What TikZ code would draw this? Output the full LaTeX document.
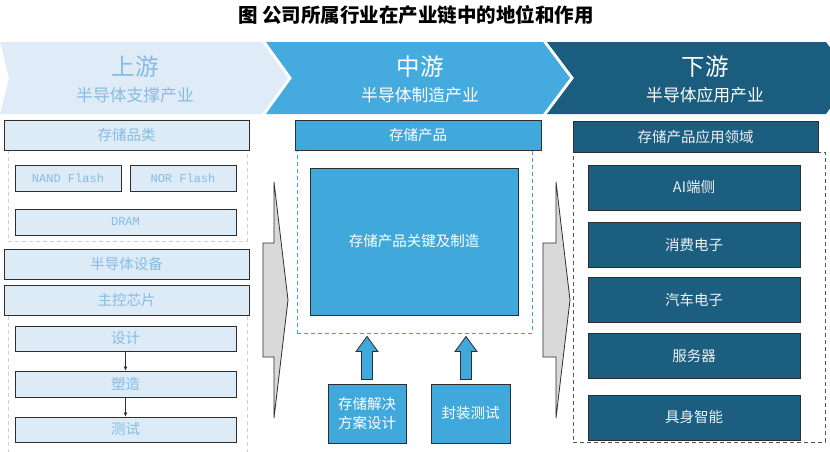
\documentclass[tikz,border=0pt]{standalone}
\usepackage{fontspec}
\setmainfont{Noto Sans CJK SC}
\newfontfamily\monof{Liberation Mono}
\usetikzlibrary{calc,arrows.meta}
\definecolor{lightfill}{HTML}{DDEBF7}
\definecolor{lighttext}{HTML}{86BCE2}
\definecolor{midfill}{HTML}{41A8DC}
\definecolor{darkfill}{HTML}{1B5E80}
\definecolor{boxline}{HTML}{2E2E2E}
\definecolor{grayarrow}{HTML}{D9D9D9}
\definecolor{chev1}{HTML}{DFECF8}
\definecolor{chev2}{HTML}{45ABDF}
\definecolor{chev3}{HTML}{1B5D7E}
\definecolor{dashlight}{HTML}{C9D3DC}
\definecolor{dashmid}{HTML}{3FA3C9}
\definecolor{dashdark}{HTML}{555555}
\tikzset{
  lbox/.style={draw=boxline, line width=0.9pt, fill=lightfill, text=lighttext, font=\fontsize{14.5}{16}\selectfont, inner sep=0pt},
  mbox/.style={draw=boxline, line width=0.9pt, fill=midfill, text=white, font=\fontsize{14.5}{17}\selectfont, inner sep=0pt, align=center},
  dbox/.style={draw=boxline, line width=0.9pt, fill=darkfill, text=white!92!darkfill, font=\fontsize{14.5}{16}\selectfont, inner sep=0pt},
  contain/.style={dashed, dash pattern=on 4pt off 3pt, line width=0.9pt, inner sep=0pt},
  hdbig/.style={font=\fontsize{23.5}{25}\selectfont},
  hdsmall/.style={font=\fontsize{16.8}{18}\selectfont},
  grayarr/.style={fill=grayarrow, draw=boxline, line width=0.8pt},
  blockarr/.style={fill=midfill, draw=boxline, line width=0.8pt},
  smallarr/.style={-{Latex[length=4pt,width=4pt]}, draw=boxline, line width=0.7pt}
}
\begin{document}
\begin{tikzpicture}[x=1pt,y=-1pt]
\useasboundingbox (0,0) rectangle (830,451);
\fill[white] (0,0) rectangle (830,451);
% title
\node[font=\fontsize{19.5}{21}\selectfont\bfseries] (title) at (416,15) {图 公司所属行业在产业链中的地位和作用};
% chevrons
\fill[chev1] (0,42) -- (262,42) -- (288,78) -- (262,114) -- (0,114) -- (9,78) -- cycle;
\fill[chev2] (266,42) -- (543,42) -- (570,78) -- (543,114) -- (266,114) -- (292,78) -- cycle;
\fill[chev3] (547,42) -- (826,42) -- (852,78) -- (826,114) -- (547,114) -- (574,78) -- cycle;
\node[hdbig, text=lighttext] (up) at (135,67) {上游};
\node[hdsmall, text=lighttext] (upsub) at (135,95) {半导体支撑产业};
\node[hdbig, text=white] (mid) at (420,67) {中游};
\node[hdsmall, text=white] (midsub) at (420,95) {半导体制造产业};
\node[hdbig, text=white] (down) at (705,67) {下游};
\node[hdsmall, text=white] (downsub) at (705,95) {半导体应用产业};
% left column
\draw[contain, draw=dashlight] (8,150) rectangle (247,241);
\draw[contain, draw=dashlight] (8,316) -- (8,452) (247,316) -- (247,452);
\node[lbox, minimum width=245pt, minimum height=30pt] (cat) at (126.5,135) {存储品类};
\node[lbox, minimum width=106pt, minimum height=26pt, font=\monof\fontsize{12}{14}\selectfont] (nand) at (68,178) {NAND Flash};
\node[lbox, minimum width=106pt, minimum height=26pt, font=\monof\fontsize{12}{14}\selectfont] (nor) at (183,178) {NOR Flash};
\node[lbox, minimum width=221pt, minimum height=26pt, font=\monof\fontsize{12}{14}\selectfont] (dram) at (125.5,222) {DRAM};
\node[lbox, minimum width=245pt, minimum height=30pt] (equip) at (126.5,264) {半导体设备};
\node[lbox, minimum width=245pt, minimum height=30pt] (chip) at (126.5,300) {主控芯片};
\node[lbox, minimum width=221pt, minimum height=25pt] (design) at (125.5,338.5) {设计};
\node[lbox, minimum width=221pt, minimum height=26pt] (make) at (125.5,384) {塑造};
\node[lbox, minimum width=221pt, minimum height=25pt] (test) at (125.5,429.5) {测试};
\draw[smallarr] (design.south) -- (make.north);
\draw[smallarr] (make.south) -- (test.north);
% gray arrows
\draw[grayarr] (263,243) -- (274,243) -- (274,182) -- (288,300) -- (274,418) -- (274,357) -- (263,357) -- cycle;
\draw[grayarr] (543,243) -- (556,243) -- (556,182) -- (570,300) -- (556,418) -- (556,357) -- (543,357) -- cycle;
% middle column
\node[contain, draw=dashmid, minimum width=235pt, minimum height=183pt] (mcont) at (414.5,241.5) {};
\node[mbox, minimum width=246pt, minimum height=30pt] (prod) at (418,135) {存储产品};
\node[mbox, minimum width=208pt, minimum height=147pt] (key) at (414,241.5) {存储产品关键及制造};
\node[mbox, minimum width=78pt, minimum height=59pt, font=\fontsize{14.5}{19}\selectfont] (sol) at (367,413.5) {存储解决\\方案设计};
\node[mbox, minimum width=79pt, minimum height=59pt] (pack) at (470.5,413.5) {封装测试};
\draw[blockarr] ($(sol.north)+(-5.5,-4)$) -- ($(sol.north)+(-5.5,-32)$) -- ($(sol.north)+(-11,-32)$) -- ($(sol.north |- mcont.south)+(0,3)$) -- ($(sol.north)+(11,-32)$) -- ($(sol.north)+(5.5,-32)$) -- ($(sol.north)+(5.5,-4)$) -- cycle;
\coordinate (pk) at ($(pack.north)+(-4.5,0)$);
\draw[blockarr] ($(pk)+(-5.5,-4)$) -- ($(pk)+(-5.5,-32)$) -- ($(pk)+(-11,-32)$) -- ($(pk |- mcont.south)+(0,3)$) -- ($(pk)+(11,-32)$) -- ($(pk)+(5.5,-32)$) -- ($(pk)+(5.5,-4)$) -- cycle;
% right column
\node[contain, draw=dashdark, minimum width=252pt, minimum height=290pt] (rcont) at (699,297) {};
\node[dbox, minimum width=245pt, minimum height=31pt] (app) at (695.5,136.5) {存储产品应用领域};
\node[dbox, minimum width=212pt, minimum height=45pt] (ai) at (694,187.5) {AI端侧};
\node[dbox, minimum width=212pt, minimum height=45pt] (cons) at (694,244.5) {消费电子};
\node[dbox, minimum width=212pt, minimum height=45pt] (auto) at (694,300) {汽车电子};
\node[dbox, minimum width=212pt, minimum height=45pt] (serv) at (694,356) {服务器};
\node[dbox, minimum width=212pt, minimum height=45pt] (emb) at (694,417.5) {具身智能};
\end{tikzpicture}
\end{document}
